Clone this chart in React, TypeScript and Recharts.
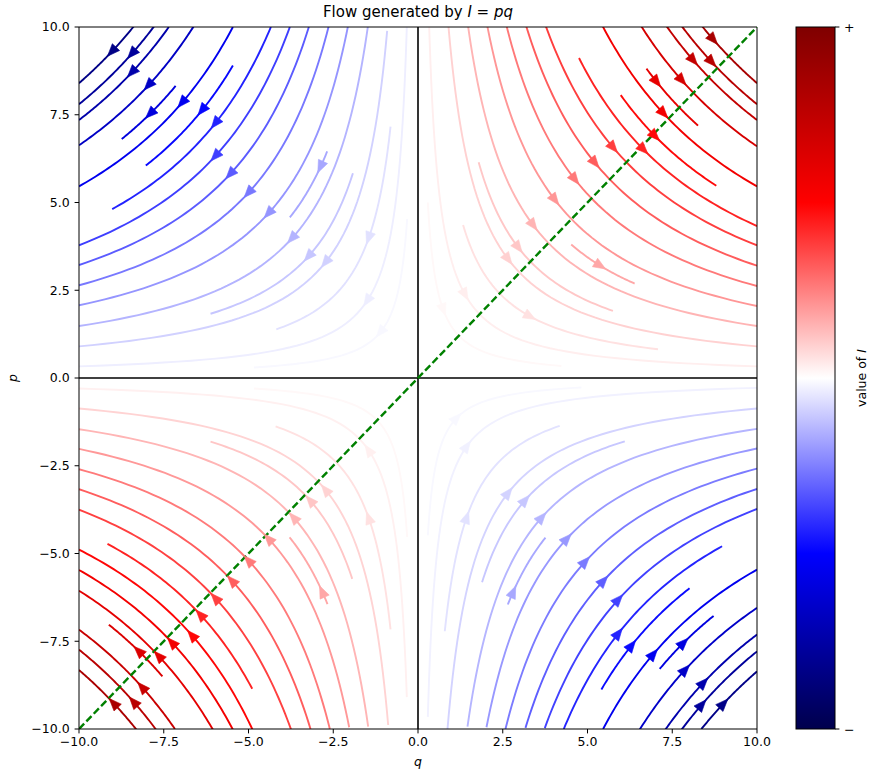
import {
  ComposedChart,
  Line,
  Scatter,
  XAxis,
  YAxis,
  ReferenceLine,
} from "recharts";

// streamlines: [value of I = p*q, q at one end, q at the other end]
const topLeftLines = [
  [-84, -10, -8.38], [-78, -10, -7.76], [-73.5, -10, -7.35], [-66.3, -10, -6.61],
  [-59.5, -8.74, -7.15], [-54.6, -10, -5.46], [-48.6, -8.03, -5.46], [-43.4, -9.02, -4.34],
  [-37.8, -10, -3.78], [-32.2, -10, -3.22], [-26.4, -10, -2.63], [-20.7, -10, -2.06],
  [-17.3, -3.78, -2.68], [-14.8, -10, -1.47], [-11.2, -6.12, -1.92], [-9, -10, -0.91],
  [-5.8, -4.18, -0.81], [-3.3, -10, -0.32], [-1.45, -4.84, -0.32],
];
const topRightLines = [
  [84, 8.38, 10], [78, 7.77, 10], [73.5, 7.33, 10], [66, 6.57, 10],
  [59.4, 6.74, 8.26], [54.6, 5.41, 10], [48.2, 5.98, 8.8], [43.3, 4.75, 10],
  [37.8, 3.72, 10], [32, 3.15, 10], [26.2, 2.58, 10], [20.5, 2.02, 10],
  [17.2, 4.52, 6.39], [14.8, 1.46, 10], [11, 1.79, 5.75], [9, 0.87, 10],
  [5.8, 1.33, 7.08], [3.3, 0.29, 10], [1.45, 0.29, 4.23],
];
const bottomLeftLines = [
  [83.2, -10, -8.3], [77.4, -10, -7.73], [71.7, -10, -7.17], [64.1, -9.12, -7.54],
  [60.6, -10, -6.04], [54.7, -10, -5.45], [48.9, -10, -4.88], [43.3, -9.16, -4.89],
  [37.5, -10, -3.73], [31.7, -10, -3.17], [26, -10, -2.6], [20.2, -10, -2.03],
  [17.2, -3.79, -2.67], [14.6, -10, -1.47], [11.1, -6.12, -1.94], [8.7, -10, -0.88],
  [5.8, -4.2, -0.81], [3, -10, -0.33], [1.45, -4.84, -0.32],
];
const bottomRightLines = [
  [-83.6, 8.36, 10], [-77.9, 7.72, 10], [-73.1, 7.28, 10], [-65.5, 6.54, 10],
  [-59.1, 7.13, 8.72], [-54.6, 5.46, 10], [-48, 5.41, 8.01], [-43, 4.3, 8.97],
  [-37.3, 3.74, 10], [-31.6, 3.17, 10], [-25.8, 2.58, 10], [-20.1, 2.02, 10],
  [-17.1, 2.65, 3.76], [-14.5, 1.46, 10], [-11, 1.89, 6.1], [-8.7, 0.87, 10],
  [-5.7, 0.79, 4.18], [-2.8, 0.29, 10], [-1.3, 0.29, 4.82],
];

// arrow heads: [value of I, q]
const topLeftArrows = [
  [-84, -9.02], [-78, -8.43], [-73.5, -8.43], [-66.3, -7.94], [-59.5, -7.89], [-54.6, -6.95],
  [-48.6, -6.36], [-43.4, -5.97], [-37.8, -5.97], [-32.2, -5.53], [-26.4, -4.99], [-20.7, -4.4],
  [-14.8, -3.71], [-11.2, -3.22], [-9, -2.72], [-17.3, -2.87], [-5.8, -1.45], [-3.3, -1.49],
  [-1.45, -1.1],
];
const topRightArrows = [
  [84, 8.7], [73.5, 8.11], [78, 8.65], [66, 7.77], [59.4, 7.03], [54.6, 7.23],
  [48.2, 6.98], [43.3, 6.64], [37.8, 5.75], [32, 5.21], [26.2, 4.62], [20.5, 4.03],
  [14.8, 3.39], [11, 2.95], [9, 2.65], [17.2, 5.36], [3.3, 1.38], [1.45, 0.74], [5.8, 3.29],
];
const bottomLeftArrows = [
  [83.2, -8.97], [77.4, -8.38], [71.7, -8.13], [64.1, -8.23], [60.6, -7.64], [54.7, -7.25],
  [48.9, -6.66], [43.3, -6.41], [37.5, -5.97], [31.7, -5.48], [26, -4.99], [20.2, -4.4],
  [14.6, -3.66], [11.1, -3.17], [8.7, -2.72], [17.2, -2.82], [5.8, -1.45], [3, -1.45],
];
const bottomRightArrows = [
  [-83.6, 9.0], [-77.9, 8.36], [-73.1, 8.41], [-65.5, 7.87], [-59.1, 7.82], [-54.6, 6.93],
  [-48, 6.29], [-43, 5.9], [-37.3, 5.9], [-31.6, 5.46], [-25.8, 4.92], [-20.1, 4.38],
  [-14.5, 3.64], [-11, 3.15], [-8.7, 2.65], [-17.1, 2.8], [-5.7, 1.43], [-2.8, 1.43], [-1.3, 1.13],
];

const diagonal = [
  { q: -10, p: -10 },
  { q: 10, p: 10 },
];
const ticks = [-10, -7.5, -5, -2.5, 0, 2.5, 5, 7.5, 10];
const I_MAX = 100;

const W = 870;
const H = 771;
const PLOT_LEFT = 79;
const PLOT_TOP = 27;
const PLOT_W = 678;
const PLOT_H = 702;
const FONT = "DejaVu Sans, sans-serif";

// matplotlib "seismic" colormap
function seismic(v: number) {
  const t = Math.max(0, Math.min(1, (v / I_MAX + 1) / 2));
  const stops = [
    [0, 0, 0, 0.3],
    [0.25, 0, 0, 1],
    [0.5, 1, 1, 1],
    [0.75, 1, 0, 0],
    [1, 0.5, 0, 0],
  ];
  for (let i = 0; i < stops.length - 1; i++) {
    const a = stops[i];
    const b = stops[i + 1];
    if (t <= b[0]) {
      const f = (t - a[0]) / (b[0] - a[0]);
      const c = [1, 2, 3].map((k) => Math.round(255 * (a[k] + (b[k] - a[k]) * f)));
      return `rgb(${c[0]},${c[1]},${c[2]})`;
    }
  }
  return "rgb(127,0,0)";
}

// points along the streamline p*q = I between its two ends
function streamPoints(I: number, qa: number, qb: number) {
  const n = 60;
  const pts = [];
  for (let i = 0; i <= n; i++) {
    const q = qa * Math.pow(qb / qa, i / n);
    pts.push({ q, p: I / q });
  }
  return pts;
}

const streamlines = [...topLeftLines, ...topRightLines, ...bottomLeftLines, ...bottomRightLines];
const arrows = [...topLeftArrows, ...topRightArrows, ...bottomLeftArrows, ...bottomRightArrows].map(
  ([I, q]) => ({ q, p: I / q, color: seismic(I) })
);

const fmt = (v: number) => v.toFixed(1).replace("-", "\u2212");

function ArrowHead(props: any) {
  const { cx, cy, payload } = props;
  if (cx == null || cy == null) return null;
  // flow: dq/dt = q, dp/dt = -p (screen y points down)
  const ang = Math.atan2(payload.p * (PLOT_H / 20), payload.q * (PLOT_W / 20));
  const c = Math.cos(ang);
  const s = Math.sin(ang);
  const pt = (a: number, b: number) => `${cx + a * c - b * s},${cy + a * s + b * c}`;
  return (
    <polygon
      points={`${pt(7, 0)} ${pt(-5.5, 5)} ${pt(-5.5, -5)}`}
      fill={payload.color}
      stroke={payload.color}
      strokeWidth={0.6}
    />
  );
}

export default function App() {
  return (
    <div style={{ position: "absolute", left: 0, top: 0, width: W, height: H, background: "#fff" }}>
      <ComposedChart
        width={W}
        height={H}
        margin={{ top: PLOT_TOP, right: W - PLOT_LEFT - PLOT_W, bottom: 0, left: 0 }}
      >
        <XAxis
          type="number"
          dataKey="q"
          domain={[-10, 10]}
          ticks={ticks}
          allowDataOverflow
          tickFormatter={fmt}
          height={H - PLOT_TOP - PLOT_H}
          tickSize={4.4}
          tickMargin={4}
          stroke="#000"
          tick={{ fill: "#000", fontSize: 12.5, fontFamily: FONT }}
        />
        <YAxis
          type="number"
          dataKey="p"
          domain={[-10, 10]}
          ticks={ticks}
          allowDataOverflow
          tickFormatter={fmt}
          width={PLOT_LEFT}
          tickSize={4.4}
          tickMargin={5}
          stroke="#000"
          tick={{ fill: "#000", fontSize: 12.5, fontFamily: FONT }}
        />
        {streamlines.map(([I, qa, qb], i) => (
          <Line
            key={`s-${i}`}
            data={streamPoints(I, qa, qb)}
            dataKey="p"
            type="linear"
            dot={false}
            activeDot={false}
            stroke={seismic(I)}
            strokeWidth={1.9}
            isAnimationActive={false}
          />
        ))}
        <Scatter data={arrows} dataKey="p" shape={<ArrowHead />} isAnimationActive={false} />
        <ReferenceLine x={0} stroke="#000" strokeWidth={1.6} />
        <ReferenceLine y={0} stroke="#000" strokeWidth={1.6} />
        <ReferenceLine x={10} stroke="#000" strokeWidth={1} />
        <ReferenceLine y={10} stroke="#000" strokeWidth={1} />
        <Line
          data={diagonal}
          dataKey="p"
          type="linear"
          dot={false}
          activeDot={false}
          stroke="#008000"
          strokeWidth={2.4}
          strokeDasharray="7.4 3.2"
          isAnimationActive={false}
        />
      </ComposedChart>
      <svg
        width={W}
        height={H}
        style={{ position: "absolute", left: 0, top: 0, pointerEvents: "none" }}
      >
        <defs>
          <linearGradient id="seismicBar" x1="0" y1="1" x2="0" y2="0">
            <stop offset="0" stopColor="#00004c" />
            <stop offset="0.25" stopColor="#0000ff" />
            <stop offset="0.5" stopColor="#ffffff" />
            <stop offset="0.75" stopColor="#ff0000" />
            <stop offset="1" stopColor="#7f0000" />
          </linearGradient>
        </defs>
        <text x={418} y={17} textAnchor="middle" fontFamily={FONT} fontSize={15} fill="#000">
          Flow generated by <tspan fontStyle="italic">I</tspan> = <tspan fontStyle="italic">pq</tspan>
        </text>
        <text x={418} y={766} textAnchor="middle" fontFamily={FONT} fontSize={12.5} fontStyle="italic">
          q
        </text>
        <text
          x={17}
          y={378}
          textAnchor="middle"
          fontFamily={FONT}
          fontSize={12.5}
          fontStyle="italic"
          transform="rotate(-90 17 378)"
        >
          p
        </text>
        <rect x={796} y={PLOT_TOP} width={39} height={PLOT_H} fill="url(#seismicBar)" stroke="#000" strokeWidth={1} />
        <line x1={835} y1={PLOT_TOP} x2={839.4} y2={PLOT_TOP} stroke="#000" />
        <line x1={835} y1={PLOT_TOP + PLOT_H} x2={839.4} y2={PLOT_TOP + PLOT_H} stroke="#000" />
        <text x={844} y={PLOT_TOP + 4.5} fontFamily={FONT} fontSize={12.5} fill="#000">
          +
        </text>
        <text x={844} y={PLOT_TOP + PLOT_H + 4.5} fontFamily={FONT} fontSize={12.5} fill="#000">
          {"\u2212"}
        </text>
        <text
          x={866}
          y={378}
          textAnchor="middle"
          fontFamily={FONT}
          fontSize={12.5}
          fill="#000"
          transform="rotate(-90 866 378)"
        >
          value of <tspan fontStyle="italic">I</tspan>
        </text>
      </svg>
    </div>
  );
}
